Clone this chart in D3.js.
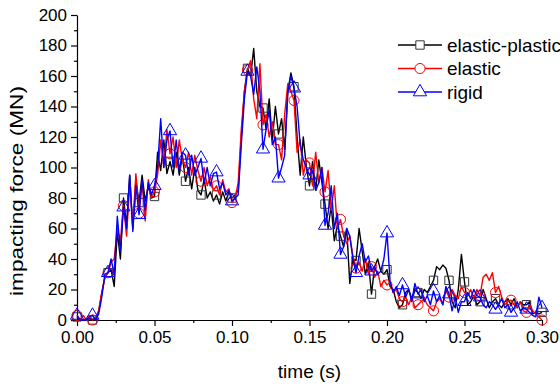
<!DOCTYPE html>
<html>
<head>
<meta charset="utf-8">
<script src="https://cdn.jsdelivr.net/npm/d3@7"></script>
<style>
  body { margin: 0; background: #fff; }
  svg { display: block; font-family: Arial, "Liberation Sans", sans-serif; }
</style>
</head>
<body>
<div id="chart"></div>
<script>
// samples every 2 ms, a marker every 10 ms
const sampleStep = 0.002;
const markerEvery = 5;

const seriesNames = ["elastic-plastic", "elastic", "rigid"];
const seriesColors = ["#000000", "#ff0000", "#0000ff"];
const seriesSymbols = ["square", "circle", "triangle"];

const elasticPlastic = [
  2, 0, 0, 0, 1, 0, 0, 6, 18, 28,
  31, 33, 22, 58, 40, 80, 62, 95, 60, 92,
  77, 95, 78, 88, 80, 81, 110, 98, 118, 96,
  104, 95, 110, 95, 108, 91, 100, 86, 100, 85,
  82, 92, 80, 84, 78, 82, 76, 84, 78, 84,
  80, 82, 85, 120, 150, 165, 160, 178, 150, 140,
  139, 125, 145, 118, 140, 122, 132, 112, 150, 162,
  153, 120, 95, 120, 100, 88, 104, 85, 105, 90,
  76, 60, 75, 52, 62, 55, 48, 60, 24, 40,
  39, 60, 45, 30, 38, 17, 35, 40, 32, 30,
  33, 22, 20, 12, 8, 10, 18, 20, 14, 20,
  18, 14, 20, 18, 22, 26, 35, 33, 36, 34,
  26, 12, 8, 20, 43, 25, 10, 12, 16, 10,
  12, 20, 14, 8, 12, 14, 10, 8, 12, 14,
  10, 14, 8, 12, 10, 10, 12, 4, 5, 4,
  5
];

const elastic = [
  3, 0, 3, 0, 3, 0, 2, 6, 18, 28,
  31, 38, 40, 60, 52, 75, 55, 90, 62, 96,
  70, 90, 65, 92, 80, 84, 95, 118, 100, 125,
  109, 120, 100, 118, 105, 100, 110, 95, 108, 98,
  91, 100, 88, 94, 85, 88, 82, 92, 84, 86,
  77, 80, 90, 125, 150, 164, 170, 145, 132, 168,
  128, 135, 120, 130, 115, 115, 105, 135, 155, 150,
  144, 110, 118, 95, 105, 103, 88, 110, 90, 100,
  84, 98, 72, 88, 60, 66, 55, 50, 55, 42,
  34, 38, 32, 40, 30, 35, 28, 32, 22, 26,
  23, 25, 18, 20, 14, 12, 15, 10, 15, 8,
  10, 12, 14, 10, 8, 6, 12, 14, 10, 20,
  15, 20, 16, 14, 22, 18, 16, 20, 14, 20,
  16, 28, 30, 26, 31, 18, 22, 15, 10, 12,
  13, 10, 8, 12, 6, 5, 10, 6, 4, 2,
  0
];

const rigid = [
  3, 0, 0, 0, 2, 3, 0, 4, 15, 30,
  31, 40, 30, 68, 45, 74, 60, 95, 58, 88,
  69, 92, 72, 90, 82, 88, 100, 132, 100, 118,
  124, 100, 118, 98, 110, 108, 95, 108, 95, 100,
  106, 90, 100, 88, 96, 97, 86, 90, 82, 85,
  78, 80, 82, 115, 145, 163, 160, 148, 166, 150,
  112, 125, 138, 115, 120, 93, 100, 108, 150, 160,
  152, 140, 115, 105, 100, 95, 98, 85, 90, 100,
  62, 70, 88, 60, 70, 43, 48, 60, 55, 40,
  31, 42, 50, 38, 42, 32, 35, 30, 32, 40,
  57, 25, 18, 22, 16, 23, 15, 20, 12, 24,
  17, 20, 12, 16, 10, 19, 12, 16, 10, 22,
  17, 6, 15, 5, 12, 12, 18, 14, 20, 16,
  15, 10, 8, 12, 10, 7, 10, 14, 8, 10,
  5, 8, 12, 6, 8, 7, 5, 3, 2, 15,
  8
];

const seriesValues = [elasticPlastic, elastic, rigid];

const xTicks = [0, 0.05, 0.10, 0.15, 0.20, 0.25, 0.30];
const yTicks = [0, 20, 40, 60, 80, 100, 120, 140, 160, 180, 200];

const width = 560;
const height = 384;
const margin = { top: 15, right: 18, bottom: 64, left: 77 };

const svg = d3.select("#chart")
  .append("svg")
  .attr("width", width)
  .attr("height", height);

const x = d3.scaleLinear()
  .domain([0, 0.30])
  .range([margin.left, width - margin.right]);

const y = d3.scaleLinear()
  .domain([0, 200])
  .range([height - margin.bottom, margin.top]);

// minor ticks first, major axis on top
svg.append("g")
  .attr("transform", `translate(0,${height - margin.bottom})`)
  .call(d3.axisBottom(x).tickValues(d3.range(0.025, 0.3, 0.05)).tickSize(3).tickFormat(""))
  .call(g => g.select(".domain").remove());

svg.append("g")
  .attr("transform", `translate(${margin.left},0)`)
  .call(d3.axisLeft(y).tickValues(d3.range(10, 200, 20)).tickSize(3).tickFormat(""))
  .call(g => g.select(".domain").remove());

svg.append("g")
  .attr("transform", `translate(0,${height - margin.bottom})`)
  .call(d3.axisBottom(x).tickValues(xTicks).tickSize(6).tickSizeOuter(0).tickPadding(5).tickFormat(d3.format(".2f")));

svg.append("g")
  .attr("transform", `translate(${margin.left},0)`)
  .call(d3.axisLeft(y).tickValues(yTicks).tickSize(6).tickSizeOuter(0).tickPadding(4));

svg.selectAll(".tick text")
  .attr("font-size", "17px")
  .attr("font-family", "Arial, 'Liberation Sans', sans-serif")
  .attr("fill", "#000");
svg.selectAll(".domain, .tick line").attr("stroke", "#000").attr("stroke-width", 1.2);

svg.append("text")
  .attr("x", (margin.left + width - margin.right) / 2)
  .attr("y", 378)
  .attr("text-anchor", "middle")
  .attr("font-size", "19px")
  .text("time (s)");

// the y title is drawn stretched in the original
svg.append("text")
  .attr("transform", "translate(23,191) rotate(-90)")
  .attr("text-anchor", "middle")
  .attr("font-size", "18px")
  .attr("textLength", 210)
  .attr("lengthAdjust", "spacingAndGlyphs")
  .text("impacting force (MN)");

const symbolType = { square: d3.symbolSquare, circle: d3.symbolCircle, triangle: d3.symbolTriangle };
const symbolSize = { square: 70, circle: 80, triangle: 75 };

const line = d3.line()
  .x((d, i) => x(i * sampleStep))
  .y(d => y(d));

const plot = svg.append("g");

seriesValues.forEach((vals, k) => {
  plot.append("path")
    .datum(vals)
    .attr("fill", "none")
    .attr("stroke", seriesColors[k])
    .attr("stroke-width", 1.4)
    .attr("stroke-linejoin", "round")
    .attr("d", line);

  const marks = vals.map((v, i) => ({ v, i })).filter(d => d.i % markerEvery === 0);
  plot.append("g")
    .selectAll("path")
    .data(marks)
    .join("path")
    .attr("transform", d => `translate(${x(d.i * sampleStep)},${y(d.v)})`)
    .attr("d", d3.symbol().type(symbolType[seriesSymbols[k]]).size(symbolSize[seriesSymbols[k]]))
    .attr("fill", "none")
    .attr("stroke", k === 0 ? "#333" : seriesColors[k])
    .attr("stroke-width", 1);
});

// legend
const legend = svg.append("g");
seriesNames.forEach((name, k) => {
  const ly = 45 + k * 23.5;
  legend.append("line")
    .attr("x1", 398).attr("x2", 442)
    .attr("y1", ly).attr("y2", ly)
    .attr("stroke", seriesColors[k])
    .attr("stroke-width", 1.4);
  legend.append("path")
    .attr("transform", `translate(420,${ly})`)
    .attr("d", d3.symbol().type(symbolType[seriesSymbols[k]]).size(symbolSize[seriesSymbols[k]])())
    .attr("fill", "#fff")
    .attr("stroke", k === 0 ? "#333" : seriesColors[k])
    .attr("stroke-width", 1);
  legend.append("text")
    .attr("x", 447)
    .attr("y", ly)
    .attr("dy", "0.35em")
    .attr("font-size", "19px")
    .text(name);
});
</script>
</body>
</html>
